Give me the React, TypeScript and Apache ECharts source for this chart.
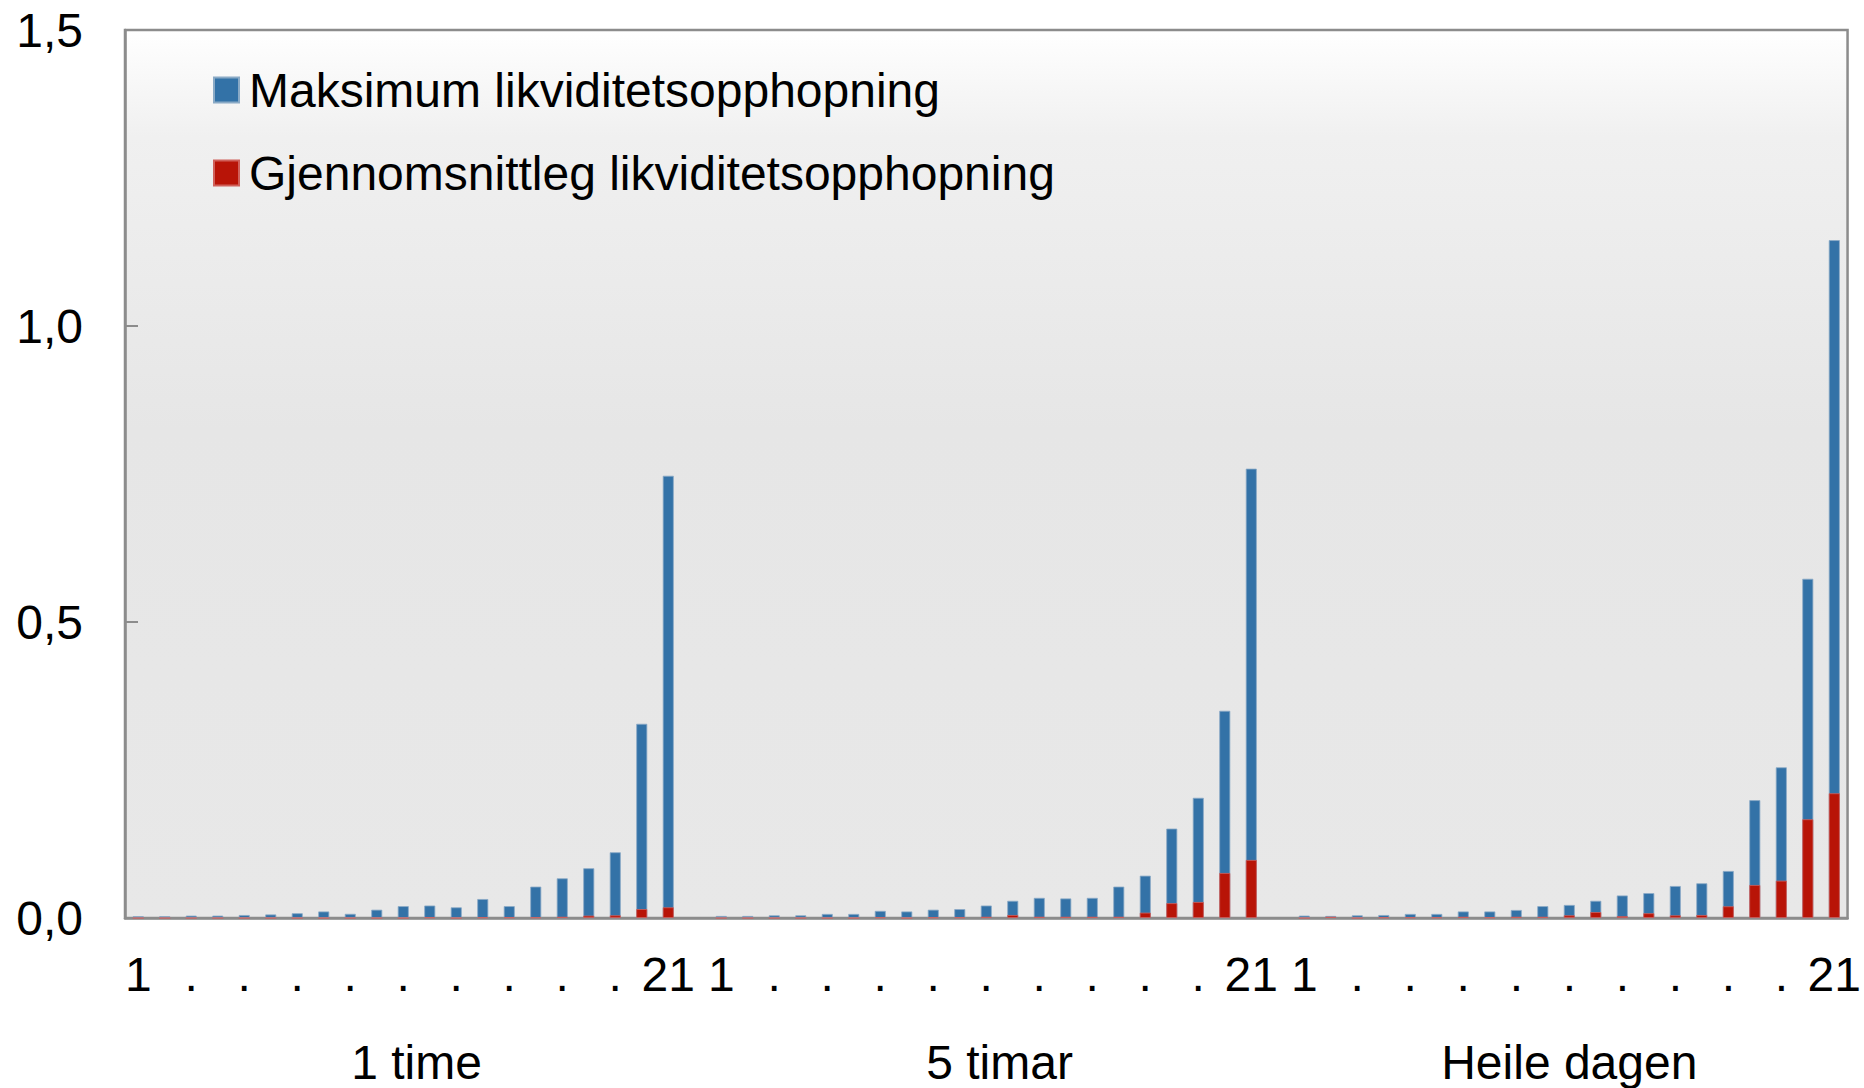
import React, { useEffect, useRef } from "react";
import * as echarts from "echarts";

const seriesNames = ["Maksimum likviditetsopphopning", "Gjennomsnittleg likviditetsopphopning"];
const groupNames = ["1 time", "5 timar", "Heile dagen"];
const groupTicks = ["1", "", ".", "", ".", "", ".", "", ".", "", ".", "", ".", "", ".", "", ".", "", ".", "", "21"];

const maxOneHour = [0.003, 0.003, 0.004, 0.004, 0.005, 0.006, 0.008, 0.011, 0.007, 0.014, 0.02, 0.021, 0.018, 0.032, 0.02, 0.053, 0.067, 0.084, 0.111, 0.328, 0.747];
const avgOneHour = [0, 0, 0, 0, 0, 0, 0, 0, 0, 0, 0, 0.001, 0, 0.001, 0.001, 0.001, 0.002, 0.004, 0.0045, 0.015, 0.018];

const maxFiveHours = [0.0034, 0.0034, 0.0045, 0.0045, 0.0068, 0.0068, 0.012, 0.011, 0.014, 0.015, 0.021, 0.029, 0.034, 0.033, 0.034, 0.053, 0.0715, 0.151, 0.203, 0.35, 0.759];
const avgFiveHours = [0, 0, 0, 0, 0, 0, 0.001, 0, 0.001, 0.001, 0.002, 0.005, 0.002, 0.002, 0.002, 0.002, 0.009, 0.025, 0.027, 0.076, 0.098];

const maxWholeDay = [0.004, 0.0034, 0.0045, 0.005, 0.0068, 0.0068, 0.011, 0.011, 0.0135, 0.02, 0.022, 0.029, 0.038, 0.042, 0.054, 0.0586, 0.0794, 0.199, 0.2545, 0.573, 1.145];
const avgWholeDay = [0, 0.002, 0, 0.001, 0.001, 0.001, 0.002, 0.001, 0.002, 0.002, 0.0045, 0.01, 0.003, 0.008, 0.0045, 0.005, 0.0197, 0.0557, 0.063, 0.1667, 0.2106];

const yMin = 0;
const yMax = 1.5;
const yStep = 0.5;

const FONT = "'Liberation Sans', Arial, sans-serif";

export default function App() {
  const ref = useRef<HTMLDivElement>(null);

  useEffect(() => {
    document.body.style.margin = "0";
    const chart = echarts.init(ref.current!, null, { renderer: "svg" });

    const categories = [...groupTicks, "", ...groupTicks, "", ...groupTicks];
    const maxData = [...maxOneHour, null, ...maxFiveHours, null, ...maxWholeDay];
    const avgData = [...avgOneHour, null, ...avgFiveHours, null, ...avgWholeDay];

    chart.setOption({
      animation: false,
      textStyle: { fontFamily: FONT },
      grid: {
        left: 125,
        right: 16,
        top: 30,
        bottom: 170,
        show: true,
        borderColor: "#8c8c8c",
        borderWidth: 2.5,
        backgroundColor: {
          type: "linear",
          x: 0,
          y: 0,
          x2: 0,
          y2: 1,
          colorStops: [
            { offset: 0, color: "#ffffff" },
            { offset: 0.12, color: "#f0f0f0" },
            { offset: 0.45, color: "#e6e6e6" },
            { offset: 1, color: "#e8e8e8" },
          ],
        },
      },
      legend: {
        orient: "vertical",
        left: 213,
        top: 65,
        padding: 0,
        itemGap: 33,
        itemWidth: 25,
        itemHeight: 25,
        icon: "rect",
        data: seriesNames,
        textStyle: {
          fontSize: 48,
          lineHeight: 50,
          color: "#000",
          fontFamily: FONT,
          padding: [0, 0, 0, 5],
        },
      },
      xAxis: {
        type: "category",
        data: categories,
        axisLine: { show: true, lineStyle: { color: "#8c8c8c", width: 2.5 } },
        axisTick: { show: false },
        axisLabel: {
          interval: 0,
          fontSize: 48,
          color: "#000",
          margin: 32,
          fontFamily: FONT,
          hideOverlap: false,
        },
      },
      yAxis: {
        type: "value",
        min: yMin,
        max: yMax,
        interval: yStep,
        splitLine: { show: false },
        axisLine: { show: true, lineStyle: { color: "#8c8c8c", width: 2.5 } },
        axisTick: { show: true, inside: true, length: 13, lineStyle: { color: "#8c8c8c", width: 2 } },
        axisLabel: {
          fontSize: 48,
          color: "#000",
          margin: 42,
          fontFamily: FONT,
          formatter: (v: number) => v.toFixed(1).replace(".", ","),
        },
      },
      series: [
        {
          name: seriesNames[0],
          type: "bar",
          data: maxData,
          barWidth: 11,
          barGap: "-100%",
          itemStyle: { color: "#3372a7", borderColor: "#8aaac6", borderWidth: 0.8 },
        },
        {
          name: seriesNames[1],
          type: "bar",
          data: avgData,
          barWidth: 11,
          barGap: "-100%",
          itemStyle: { color: "#b81407", borderColor: "#d0605a", borderWidth: 0.8 },
        },
      ],
    });

    const px = (i: number) => chart.convertToPixel({ xAxisIndex: 0 }, i) as number;
    const g = groupTicks.length;
    const centers = [
      (px(g / 2 - 0.5) + px(g / 2 + 0.5)) / 2,
      (px(g + 1 + g / 2 - 0.5) + px(g + 1 + g / 2 + 0.5)) / 2,
      px(2 * (g + 1) + (g - 1) / 2),
    ];
    chart.setOption({
      graphic: groupNames.map((name, i) => ({
        type: "text",
        x: centers[i],
        y: 1062,
        style: {
          text: name,
          fontSize: 48,
          fontFamily: FONT,
          fill: "#000",
          align: "center",
          verticalAlign: "middle",
        },
      })),
    });

    return () => chart.dispose();
  }, []);

  return (
    <div
      ref={ref}
      style={{ position: "fixed", left: 0, top: 0, width: 1864, height: 1088, background: "#fff" }}
    />
  );
}
